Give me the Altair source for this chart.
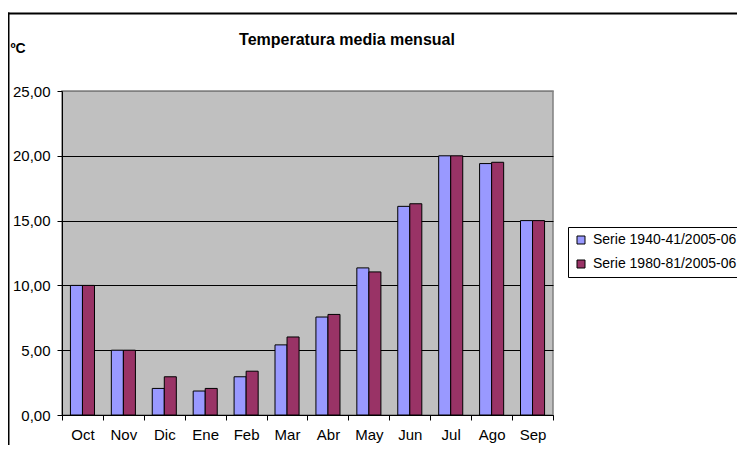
import altair as alt
import pandas as pd

months = ["Oct", "Nov", "Dic", "Ene", "Feb", "Mar", "Abr", "May", "Jun", "Jul", "Ago", "Sep"]
series_names = ["Serie 1940-41/2005-06", "Serie 1980-81/2005-06"]
serie_1940 = [10.0, 5.0, 2.05, 1.85, 2.95, 5.41, 7.56, 11.35, 16.1, 20.0, 19.4, 15.0]
serie_1980 = [10.0, 5.0, 2.95, 2.05, 3.38, 6.02, 7.76, 11.04, 16.3, 20.0, 19.5, 15.0]
y_ticks = [0, 5, 10, 15, 20, 25]
chart_title = "Temperatura media mensual"
y_title = "ºC"
colors = ["#9999FF", "#993366"]

rows = []
for m, a, b in zip(months, serie_1940, serie_1980):
    rows.append({"month": m, "serie": series_names[0], "value": a})
    rows.append({"month": m, "serie": series_names[1], "value": b})
df = pd.DataFrame(rows)

FONT = "Liberation Sans"

bars = alt.Chart(df).mark_bar(stroke="black", strokeWidth=1).encode(
    x=alt.X(
        "month:N",
        sort=months,
        scale=alt.Scale(paddingInner=0, paddingOuter=0),
        axis=alt.Axis(
            title=None, labelAngle=0, tickBand="extent", tickSize=5,
            tickColor="black", domainColor="black", labelFontSize=15,
            labelPadding=7, labelColor="black", labelFont=FONT,
        ),
    ),
    xOffset=alt.XOffset(
        "serie:N", sort=series_names,
        scale=alt.Scale(paddingInner=0, paddingOuter=0.7),
    ),
    y=alt.Y(
        "value:Q",
        scale=alt.Scale(domain=[0, 25], nice=False),
        axis=alt.Axis(
            values=y_ticks,
            labelExpr="replace(format(datum.value, '.2f'), '.', ',')",
            grid=True,
            gridColor={"condition": {"test": "datum.value == 25", "value": "#808080"}, "value": "black"},
            gridWidth=1.2,
            tickSize=5, tickColor="black", domainColor="black",
            labelFontSize=15, labelPadding=7, labelColor="black", labelFont=FONT,
            title=y_title, titleAngle=0, titleAlign="left", titleBaseline="alphabetic",
            titleX=-52, titleY=-39, titleFontSize=14, titleFontWeight="bold",
            titleFont=FONT, titleColor="black",
        ),
    ),
    color=alt.Color(
        "serie:N",
        sort=series_names,
        scale=alt.Scale(domain=series_names, range=colors),
        legend=alt.Legend(
            title=None, orient="none", legendX=506, legendY=136,
            strokeColor="black", fillColor="white", padding=6,
            symbolType="square", symbolSize=64, symbolStrokeColor="black",
            symbolStrokeWidth=1, labelFontSize=14, labelFont=FONT,
            labelColor="black", labelOffset=5, rowPadding=10, labelLimit=400,
        ),
    ),
)

title_layer = alt.Chart(pd.DataFrame({"t": [chart_title]})).mark_text(
    font=FONT, fontSize=16, fontWeight="bold", color="black",
    align="center", baseline="alphabetic",
).encode(text="t:N", x=alt.value(285), y=alt.value(-46))

frame_top = alt.Chart(pd.DataFrame({"a": [0]})).mark_rule(
    color="black", strokeWidth=2
).encode(x=alt.value(-54), x2=alt.value(720), y=alt.value(-77.5))

frame_left = alt.Chart(pd.DataFrame({"a": [0]})).mark_rule(
    color="black", strokeWidth=2
).encode(x=alt.value(-53.5), y=alt.value(-78.5), y2=alt.value(400))

chart = alt.layer(bars, title_layer, frame_top, frame_left).properties(
    width=491, height=324,
    padding={"left": 54, "top": 83, "right": 184, "bottom": 30},
    autosize="none",
    background="white",
).configure_view(
    fill="#C0C0C0", stroke="#808080", strokeWidth=1.5,
).configure_axis(
    labelFont=FONT,
)

chart.save("out.html", embed_options={"renderer": "svg", "actions": False})
